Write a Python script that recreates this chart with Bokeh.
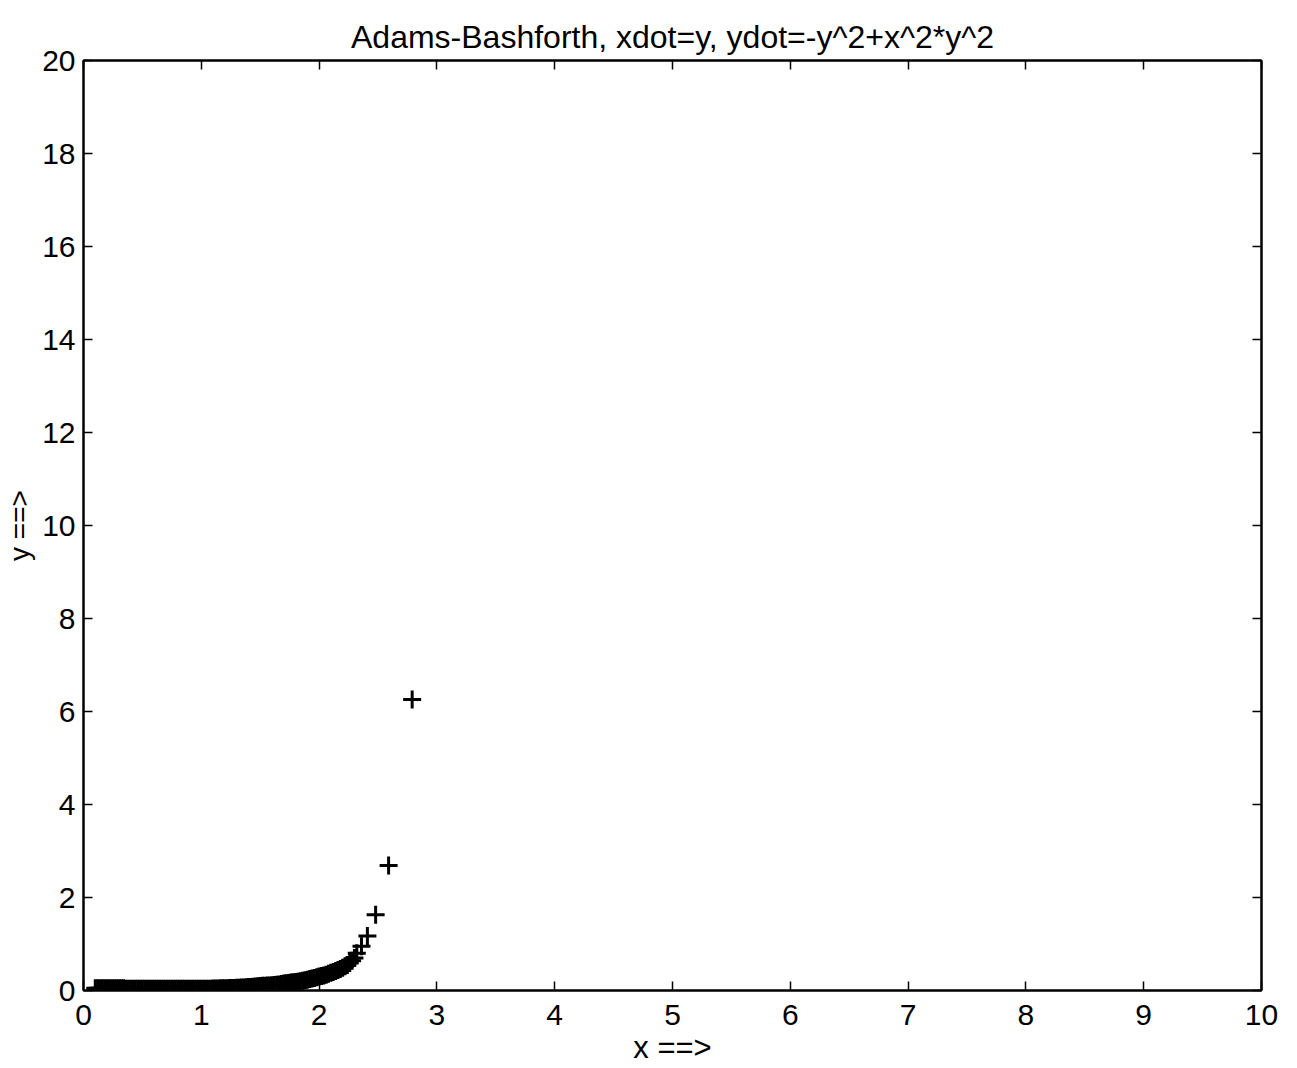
from bokeh.plotting import figure
from bokeh.models import LinearAxis, Range1d, FixedTicker
from bokeh.embed import file_html
from bokeh.resources import INLINE

# Trajectory samples (x, y)
xs = [0.10, 0.12, 0.14, 0.16, 0.18, 0.20, 0.22, 0.24, 0.26, 0.28,
      0.30, 0.32, 0.34, 0.36, 0.38, 0.40, 0.42, 0.44, 0.46, 0.48,
      0.50, 0.52, 0.54, 0.56, 0.58, 0.60, 0.62, 0.64, 0.66, 0.68,
      0.70, 0.72, 0.74, 0.76, 0.78, 0.80, 0.82, 0.84, 0.86, 0.88,
      0.90, 0.92, 0.94, 0.96, 0.98, 1.00, 1.02, 1.04, 1.06, 1.08,
      1.10, 1.12, 1.14, 1.16, 1.18, 1.20, 1.22, 1.24, 1.26, 1.28,
      1.30, 1.32, 1.34, 1.36, 1.38, 1.40, 1.42, 1.44, 1.46, 1.48,
      1.50, 1.52, 1.54, 1.56, 1.58, 1.60, 1.62, 1.64, 1.66, 1.68,
      1.70, 1.72, 1.74, 1.76, 1.78, 1.80, 1.82, 1.84, 1.86, 1.88,
      1.90, 1.92, 1.94, 1.96, 1.98, 2.00, 2.02, 2.04, 2.06, 2.08,
      2.10, 2.12, 2.14, 2.16, 2.18, 2.20, 2.22, 2.24,
      2.26, 2.28, 2.30, 2.32, 2.36, 2.41, 2.48, 2.59, 2.79]
ys = [0.05, 0.05, 0.05, 0.05, 0.05, 0.05, 0.05, 0.05, 0.05, 0.05,
      0.05, 0.05, 0.05, 0.04, 0.04, 0.04, 0.04, 0.04, 0.04, 0.04,
      0.04, 0.04, 0.04, 0.04, 0.04, 0.04, 0.04, 0.04, 0.04, 0.04,
      0.04, 0.04, 0.04, 0.04, 0.04, 0.04, 0.04, 0.04, 0.04, 0.04,
      0.04, 0.04, 0.04, 0.04, 0.04, 0.04, 0.04, 0.04, 0.04, 0.04,
      0.045, 0.045, 0.045, 0.05, 0.05, 0.05, 0.05, 0.055, 0.055, 0.055,
      0.06, 0.06, 0.065, 0.065, 0.07, 0.075, 0.075, 0.08, 0.085, 0.09,
      0.095, 0.10, 0.10, 0.105, 0.11, 0.115, 0.12, 0.125, 0.13, 0.14,
      0.15, 0.155, 0.16, 0.17, 0.175, 0.185, 0.19, 0.20, 0.21, 0.22,
      0.23, 0.245, 0.26, 0.27, 0.285, 0.30, 0.31, 0.325, 0.34, 0.36,
      0.38, 0.40, 0.42, 0.44, 0.46, 0.49, 0.52, 0.55,
      0.59, 0.64, 0.70, 0.80, 0.95, 1.17, 1.63, 2.69, 6.26]

x_ticks = [0, 1, 2, 3, 4, 5, 6, 7, 8, 9, 10]
y_ticks = [0, 2, 4, 6, 8, 10, 12, 14, 16, 18, 20]

FONT = "Liberation Sans"

p = figure(frame_width=1178, frame_height=930,
           x_range=Range1d(0, 10), y_range=Range1d(0, 20),
           output_backend="svg", toolbar_location=None,
           min_border_left=83, min_border_right=36,
           min_border_top=60, min_border_bottom=78,
           x_axis_location=None, y_axis_location=None,
           title="Adams-Bashforth, xdot=y, ydot=-y^2+x^2*y^2")
p.title.align = "center"
p.title.text_font = FONT
p.title.text_font_size = "32px"
p.title.text_font_style = "normal"
p.title.text_color = "black"
p.title.standoff = 12
p.grid.visible = False
p.outline_line_color = "black"
p.outline_line_width = 2

def style(ax, labels=True):
    ax.major_tick_in = 9
    ax.major_tick_out = 0
    ax.minor_tick_in = 0
    ax.minor_tick_out = 0
    ax.axis_line_color = "black"
    ax.axis_line_width = 2
    ax.major_tick_line_color = "black"
    ax.major_tick_line_width = 1.5
    ax.major_label_text_font = FONT
    ax.major_label_text_font_size = "30px"
    ax.major_label_text_color = "black"
    ax.axis_label_text_font = FONT
    ax.axis_label_text_font_size = "28px"
    ax.axis_label_text_font_style = "normal"
    ax.axis_label_text_color = "black"
    if not labels:
        ax.major_label_text_font_size = "0px"
        ax.major_label_text_alpha = 0

xb = LinearAxis(ticker=FixedTicker(ticks=x_ticks), axis_label="x ==>")
style(xb)
xb.axis_label_text_font_size = "31px"
xb.major_label_standoff = 14
xb.axis_label_standoff = 2
yl = LinearAxis(ticker=FixedTicker(ticks=y_ticks), axis_label="y ==>")
style(yl)
yl.major_label_standoff = 8
yl.axis_label_standoff = 4
xt = LinearAxis(ticker=FixedTicker(ticks=x_ticks))
style(xt, labels=False)
yr = LinearAxis(ticker=FixedTicker(ticks=y_ticks))
style(yr, labels=False)

p.add_layout(xb, "below")
p.add_layout(yl, "left")
p.add_layout(xt, "above")
p.add_layout(yr, "right")

p.scatter(xs, ys, marker="cross", size=18, line_color="black", line_width=3)

open("out.html", "w").write(file_html(p, INLINE))
